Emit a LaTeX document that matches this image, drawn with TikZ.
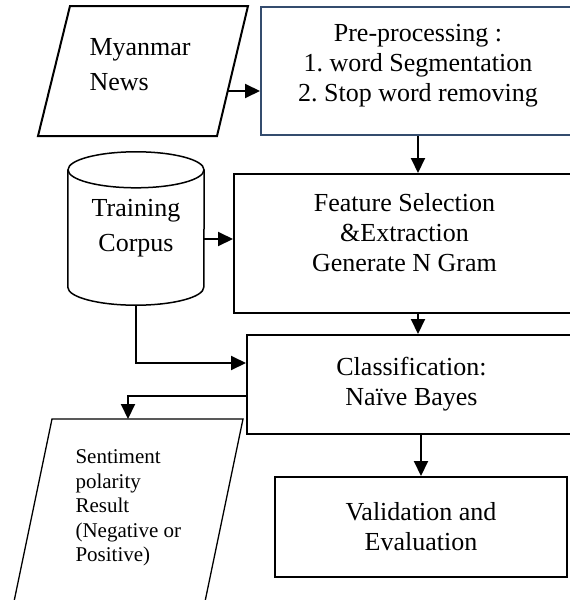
\documentclass[tikz,border=0pt]{standalone}
\usepackage{fontspec}
\setmainfont{Liberation Serif}
\usetikzlibrary{arrows.meta,positioning,calc}
\definecolor{preblue}{RGB}{52,76,110}
\frenchspacing
\tikzset{
  box/.style={draw, line width=2pt, rectangle, align=center, font=\fontsize{26}{30}\selectfont},
  arr/.style={line width=2pt, -{Triangle[length=15pt,width=14pt]}},
  outline/.style={line width=1.5pt, line join=miter}
}
\begin{document}
\begin{tikzpicture}[x=1pt, y=-1pt]
    \useasboundingbox (0,0) rectangle (570,600);
    \clip (0,0) rectangle (570,600);

    % Boxes of the main flow
    \node[box, draw=preblue, minimum width=314pt, minimum height=128pt] (pre) at (418,71)
        {Pre-processing :\\ 1. word Segmentation\\ 2. Stop word removing\\[-14pt]~};
    \node[box, minimum width=341pt, minimum height=139pt] (feat) at (404.5,243.5)
        {Feature Selection\\ \&Extraction\\ Generate N Gram\\[-8pt] ~};
    \node[box, minimum width=329pt, minimum height=99pt] (cls) at (411.5,384.5)
        {Classification:\\ Na\"ive Bayes};
    \node[box, minimum width=292pt, minimum height=100pt] (val) at (421,527)
        {Validation and\\ Evaluation};

    % Input: Myanmar News (parallelogram)
    \node[anchor=west, align=left, font=\fontsize{26}{35}\selectfont] (news) at (86,64.5) {Myanmar\\ News};
    \draw[outline, line width=2pt] (70,6) -- (248,6) -- (217,136) -- (38,136) -- cycle;
    \coordinate (newsout) at (227.5,91);

    % Training corpus (cylinder)
    \node[minimum width=136pt, minimum height=117pt, align=center, font=\fontsize{26}{35}\selectfont] (corpus) at (136,228.5)
        {Training\\ Corpus};
    \draw[outline] (corpus.north west) -- (corpus.south west)
        arc[start angle=180, end angle=360, x radius=68pt, y radius=18pt] -- (corpus.north east);
    \draw[outline] (corpus.north) ellipse[x radius=68pt, y radius=18pt];
    \coordinate (corpusbot) at (136,305);

    % Output: sentiment result (parallelogram)
    \node[anchor=west, align=left, font=\fontsize{21}{24.5}\selectfont] (res) at (72,508)
        {Sentiment\\ polarity\\ Result\\ (Negative or\\ Positive)};
    \draw[outline, line width=1.3pt] (52,419) -- (243,419) -- (197,640) -- (6,640) -- cycle;
    \coordinate (restop) at (128,419);

    % Connectors
    \draw[arr] (newsout) -- (newsout -| pre.west);
    \draw[arr] (pre.south) -- (pre.south |- feat.north);
    \coordinate (featin) at ($(feat.west)+(0,-4.5)$);
    \draw[arr] (corpus.east |- featin) -- (featin);
    \coordinate (clsin) at ($(cls.west)+(0,-21.5)$);
    \draw[arr] (corpusbot) |- (clsin);
    \draw[arr] (pre.south |- feat.south) -- (pre.south |- cls.north);
    \coordinate (clsout) at ($(cls.west)+(0,11.5)$);
    \draw[arr] (clsout) -| (restop);
    \draw[arr] (cls.south -| val.north) -- (val.north);

\end{tikzpicture}
\end{document}
